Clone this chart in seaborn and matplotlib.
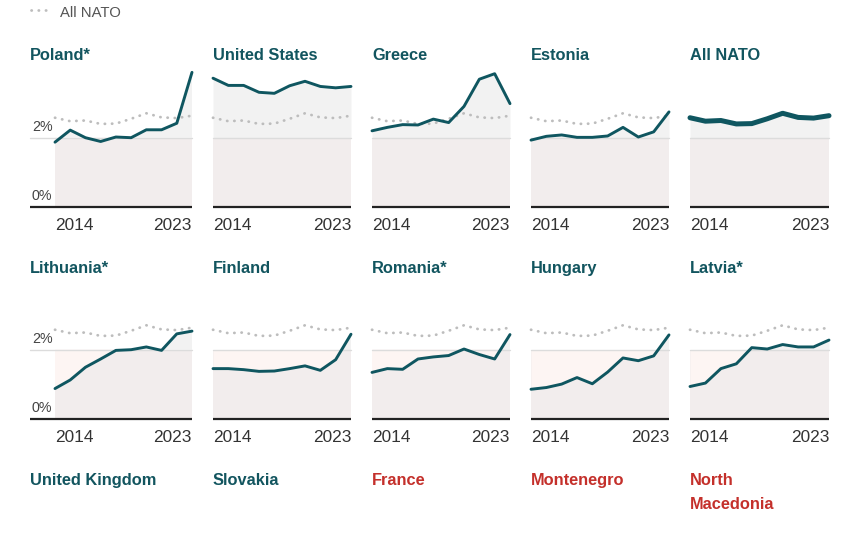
import matplotlib
matplotlib.use("Agg")
import matplotlib.pyplot as plt
import matplotlib.transforms as mtransforms
from matplotlib.lines import Line2D
import seaborn as sns
import numpy as np
import pandas as pd

# ---------------- data ----------------
years = list(range(2014, 2024))
nato = [2.58, 2.48, 2.50, 2.40, 2.41, 2.55, 2.71, 2.59, 2.57, 2.64]
poland = [1.87, 2.22, 2.00, 1.89, 2.02, 2.00, 2.23, 2.23, 2.42, 3.90]
united_states = [3.73, 3.52, 3.52, 3.32, 3.29, 3.51, 3.64, 3.49, 3.45, 3.49]
greece = [2.20, 2.30, 2.38, 2.37, 2.54, 2.44, 2.91, 3.70, 3.86, 2.99]
estonia = [1.93, 2.04, 2.08, 2.01, 2.01, 2.05, 2.30, 2.02, 2.17, 2.75]
lithuania = [0.87, 1.12, 1.49, 1.73, 1.98, 2.00, 2.08, 1.98, 2.46, 2.54]
finland = [1.45, 1.45, 1.42, 1.37, 1.38, 1.45, 1.53, 1.40, 1.71, 2.45]
romania = [1.34, 1.45, 1.43, 1.73, 1.79, 1.83, 2.02, 1.86, 1.73, 2.44]
hungary = [0.85, 0.90, 1.00, 1.19, 1.01, 1.35, 1.76, 1.68, 1.82, 2.43]
latvia = [0.93, 1.03, 1.45, 1.59, 2.06, 2.02, 2.15, 2.08, 2.08, 2.28]

panel_titles = ["Poland*", "United States", "Greece", "Estonia", "All NATO",
                "Lithuania*", "Finland", "Romania*", "Hungary", "Latvia*"]
panel_values = [poland, united_states, greece, estonia, nato,
                lithuania, finland, romania, hungary, latvia]
row3_titles = ["United Kingdom", "Slovakia", "France", "Montenegro", "North\nMacedonia"]
row3_colors = ["teal", "teal", "red", "red", "red"]
x_tick_labels = ["2014", "2023"]
y_tick_labels = ["0%", "2%"]
legend_label = "All NATO"

# ---------------- style ----------------
sns.set_theme(style="white")
plt.rcParams["font.family"] = ["Liberation Sans", "DejaVu Sans"]

TEAL = "#12555f"
RED = "#c4302b"
LINE = "#0f5660"
DOT = "#bdbdbd"

W, H = 856, 554
fig = plt.figure(figsize=(W / 100, H / 100), dpi=100)
fig.patch.set_facecolor("white")


def fx(px):
    return px / W


def fy(py):
    return 1 - py / H


col_left = [55, 213, 372, 531, 690]
col_right = [192, 351, 510, 669, 829]
row_base = [206.5, 418.5]
title_base = [60, 273.3]
ppu = 34.4
ymax = 4.0

for i, (name, vals) in enumerate(zip(panel_titles, panel_values)):
    r, c = divmod(i, 5)
    left, right, base = col_left[c], col_right[c], row_base[r]
    top = base - ymax * ppu
    ax = fig.add_axes([fx(left), fy(base), fx(right - left), (base - top) / H])
    ax.set_facecolor("none")
    y = np.array(vals, dtype=float)
    x = np.array(years, dtype=float)

    ax.fill_between([years[0], years[-1]], 0, 2, color="#f2eded", lw=0, zorder=0)
    ax.fill_between(x, y, 2, where=y < 2, interpolate=True, color="#fdf5f3", lw=0, zorder=0.5)
    ax.fill_between(x, 2, y, where=y > 2, interpolate=True, color="#f2f2f2", lw=0, zorder=0.5)

    blend = mtransforms.blended_transform_factory(ax.transAxes, ax.transData)
    ext = (left - 30) / (right - left) if c == 0 else 0.0
    ax.plot([-ext, 1], [2, 2], transform=blend, color="#dcdcdc", lw=1,
            clip_on=False, zorder=1)
    ax.plot([-ext, 1], [0, 0], transform=blend, color="#222222", lw=1.6,
            clip_on=False, zorder=6, solid_capstyle="butt")

    if name != "All NATO":
        sns.lineplot(x=years, y=nato, ax=ax, color=DOT, lw=2.0,
                     linestyle=(0, (0.1, 2.5)), dash_capstyle="round", zorder=3)
        sns.lineplot(x=years, y=vals, ax=ax, color=LINE, lw=2.1,
                     solid_joinstyle="round", zorder=4)
    else:
        sns.lineplot(x=years, y=vals, ax=ax, color=LINE, lw=3.6,
                     solid_joinstyle="round", solid_capstyle="round", zorder=4)

    ax.set_xlim(years[0], years[-1])
    ax.set_ylim(0, ymax)
    ax.set_xlabel("")
    ax.set_ylabel("")
    ax.grid(False)
    sns.despine(ax=ax, left=True, bottom=True)
    ax.set_yticks([])
    ax.set_xticks([years[0], years[-1]])
    ax.set_xticklabels(x_tick_labels, fontsize=12.4, color="#333333")
    ax.tick_params(axis="x", length=0, pad=8.5)
    labs = ax.get_xticklabels()
    labs[0].set_ha("left")
    labs[1].set_ha("right")
    for ln in ax.get_lines():
        ln.set_clip_on(False)

    if c == 0:
        xl = -(left - 32) / (right - left)
        ax.text(xl, 2 + 7.0 / ppu, y_tick_labels[1], transform=blend, ha="left",
                va="baseline", fontsize=10.3, color="#444444")
        ax.text(xl, 6.5 / ppu, y_tick_labels[0], transform=blend, ha="left",
                va="baseline", fontsize=10.3, color="#444444")

    tx = 30 if c == 0 else left
    fig.text(fx(tx), fy(title_base[r]), name, fontsize=11.8, fontweight="bold",
             color=TEAL, ha="left", va="baseline")

# third row titles
for c, (name, col) in enumerate(zip(row3_titles, row3_colors)):
    tx = 30 if c == 0 else col_left[c]
    color = TEAL if col == "teal" else RED
    for k, part in enumerate(name.split("\n")):
        fig.text(fx(tx), fy(485 + 24.3 * k), part, fontsize=11.8, fontweight="bold",
                 color=color, ha="left", va="baseline")

# legend
fig.add_artist(Line2D([fx(31), fx(50)], [fy(10), fy(10)], color=DOT, lw=2.0,
                      linestyle=(0, (0.1, 2.5)), dash_capstyle="round",
                      transform=fig.transFigure))
fig.text(fx(60), fy(16.7), legend_label, fontsize=10.7, color="#555555",
         ha="left", va="baseline")

fig.savefig("out.png", dpi=100, facecolor="white")
